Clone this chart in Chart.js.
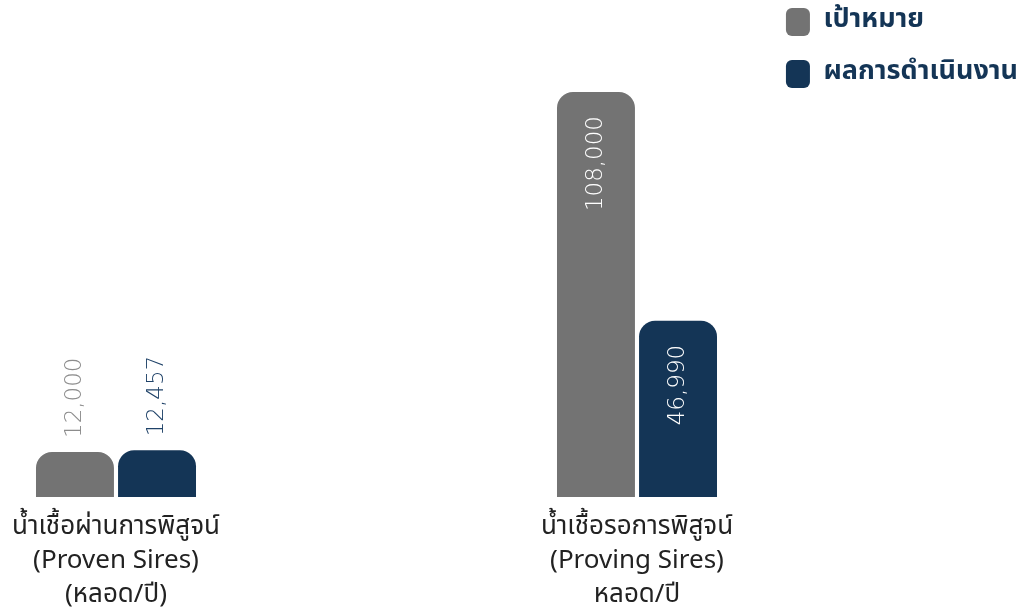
<!DOCTYPE html>
<html>
<head>
<meta charset="utf-8">
<script src="https://cdn.jsdelivr.net/npm/chart.js@4.4.1/dist/chart.umd.min.js"></script>
<style>
  html, body { margin: 0; padding: 0; background: #fff; }
  #wrap { width: 1028px; height: 612px; }
</style>
</head>
<body>
<div id="wrap"><canvas id="chart"></canvas></div>
<script>
// ---------------- DATA ----------------
const categories = [
    ["น้ำเชื้อผ่านการพิสูจน์", "(Proven Sires)", "(หลอด/ปี)"],
    ["น้ำเชื้อรอการพิสูจน์", "(Proving Sires)", "หลอด/ปี"]
];
const seriesNames = ["เป้าหมาย", "ผลการดำเนินงาน"];
const targetValues = [12000, 108000];
const actualValues = [12457, 46990];

const GRAY = "#737373";
const NAVY = "#143556";
const FONT = "'Noto Sans Thai', 'Noto Sans', 'Open Sans', sans-serif";
const NUM_FONT = "'DejaVu Sans', 'Open Sans', sans-serif";
const PAD_RIGHT = 0;

// ---------------- VALUE LABELS (rotated) ----------------
const labelColors = ["#8c8c8c", "#1f4268"];
const valueLabels = {
    id: "valueLabels",
    afterDatasetsDraw(chart) {
        const ctx = chart.ctx;
        chart.data.datasets.forEach((ds, di) => {
            chart.getDatasetMeta(di).data.forEach((bar, i) => {
                const txt = ds.data[i].toLocaleString("en-US");
                const h = bar.base - bar.y;
                ctx.save();
                ctx.font = "200 23px " + NUM_FONT;
                ctx.textBaseline = "middle";
                if (h > 100) {
                    ctx.translate(bar.x, bar.y + 24);
                    ctx.rotate(-Math.PI / 2);
                    ctx.textAlign = "right";
                    ctx.fillStyle = "#ffffff";
                } else {
                    ctx.translate(bar.x, bar.y - 14);
                    ctx.rotate(-Math.PI / 2);
                    ctx.textAlign = "left";
                    ctx.fillStyle = labelColors[di];
                }
                ctx.fillText(txt, 0, 0);
                ctx.restore();
            });
        });
    }
};

function build() {
    const ctx = document.getElementById("chart").getContext("2d");
    return new Chart(ctx, {
        type: "bar",
        data: {
            labels: categories,
            datasets: [{
                label: seriesNames[0],
                data: targetValues,
                backgroundColor: GRAY,
                borderRadius: 16,
                clip: false
            }, {
                label: seriesNames[1],
                data: actualValues,
                backgroundColor: NAVY,
                borderRadius: 16,
                clip: false
            }]
        },
        options: {
            animation: false,
            responsive: true,
            maintainAspectRatio: false,
            categoryPercentage: 0.315,
            barPercentage: 0.95,
            layout: { padding: { top: -16, right: PAD_RIGHT, bottom: -9, left: 0 } },
            plugins: {
                tooltip: { enabled: false },
                legend: {
                    position: "right",
                    align: "start",
                    maxWidth: 300,
                    labels: {
                        boxWidth: 24,
                        boxHeight: 28,
                        useBorderRadius: true,
                        borderRadius: 6,
                        padding: 24,
                        color: NAVY,
                        font: { family: FONT, size: 27, weight: "bold" }
                    }
                }
            },
            scales: {
                x: {
                    offset: false,
                    grid: { display: false },
                    border: { display: false },
                    ticks: {
                        maxRotation: 0,
                        autoSkip: false,
                        padding: 7,
                        color: "#222",
                        font: { family: FONT, size: 26, lineHeight: 34 / 26 }
                    }
                },
                xTop: {
                    type: "category",
                    position: "top",
                    labels: [],
                    grid: { display: false },
                    border: { display: false },
                    ticks: { display: false },
                    afterFit(s) { s.height = 108; }
                },
                y: {
                    min: 0,
                    max: 108000,
                    grid: { display: false },
                    border: { display: false },
                    ticks: { display: false },
                    afterFit(s) { s.width = 116; }
                },
                yRight: {
                    type: "linear",
                    position: "right",
                    grid: { display: false },
                    border: { display: false },
                    ticks: { display: false },
                    afterFit(s) {
                        const lw = s.chart.legend ? s.chart.legend.width : 0;
                        s.width = Math.max(0, 1028 - 637 - PAD_RIGHT - lw);
                    }
                }
            }
        },
        plugins: [valueLabels]
    });
}

const fontLoads = [
    "bold 27px 'Noto Sans Thai'", "26px 'Noto Sans Thai'",
    "200 23px 'DejaVu Sans'", "26px 'Noto Sans'", "bold 27px 'Noto Sans'"
].map(f => document.fonts.load(f, "เป้าหมาย 12,000").catch(() => null));

Promise.all(fontLoads).then(() => document.fonts.ready).then(build, build);
</script>
</body>
</html>
